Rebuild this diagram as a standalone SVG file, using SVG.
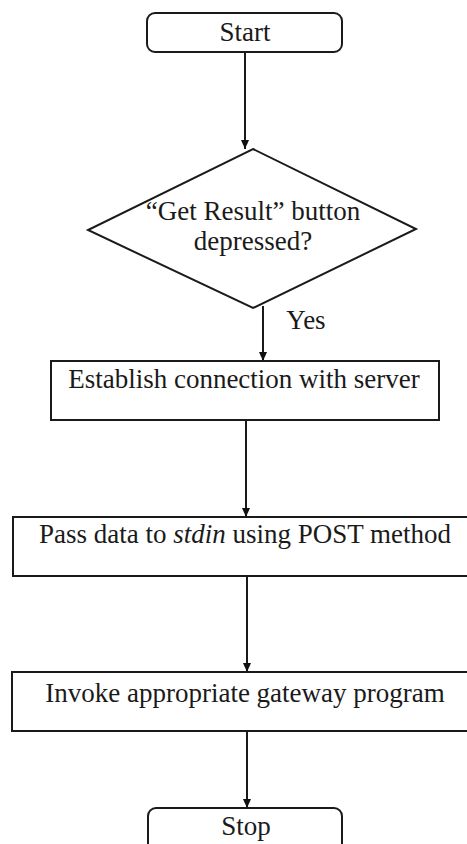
<svg xmlns="http://www.w3.org/2000/svg" width="467" height="844" viewBox="0 0 467 844">
<defs>
<marker id="ah" markerWidth="10" markerHeight="10" refX="9" refY="5" orient="auto" markerUnits="userSpaceOnUse">
<path d="M0,1 L9,5 L0,9 z" fill="#111"/>
</marker>
<style>
.n{fill:#fff;stroke:#1a1a1a;stroke-width:2}
.t{font-family:"Liberation Serif","Times New Roman",serif;font-size:27px;fill:#1a1a1a;text-anchor:middle}
.c{stroke:#1a1a1a;stroke-width:2;fill:none;marker-end:url(#ah)}
</style>
</defs>
<rect width="467" height="844" fill="#fff"/>
<g id="connectors">
<line class="c" x1="245" y1="52" x2="245" y2="149"/>
<line class="c" x1="263" y1="306" x2="263" y2="361"/>
<line class="c" x1="246" y1="420" x2="246" y2="517"/>
<line class="c" x1="247" y1="576" x2="247" y2="672"/>
<line class="c" x1="247" y1="731" x2="247" y2="808"/>
<text class="t" x="306" y="329">Yes</text>
</g>
<g id="start">
<rect class="n" x="147" y="13" width="195" height="39" rx="8"/>
<text class="t" x="245" y="41">Start</text>
</g>
<g id="decision">
<polygon class="n" points="253,149 416,229 253,308 88,230"/>
<text class="t" x="253" y="220">“Get Result” button</text>
<text class="t" x="253" y="250">depressed?</text>
</g>
<g id="establish">
<rect class="n" x="51" y="361" width="388" height="59"/>
<text class="t" x="244" y="388">Establish connection with server</text>
</g>
<g id="pass">
<rect class="n" x="13" y="517" width="460" height="59"/>
<text class="t" x="245" y="543">Pass data to <tspan font-style="italic">stdin</tspan> using POST method</text>
</g>
<g id="invoke">
<rect class="n" x="12" y="672" width="461" height="59"/>
<text class="t" x="245" y="702">Invoke appropriate gateway program</text>
</g>
<g id="stop">
<rect class="n" x="148" y="808" width="194" height="50" rx="8"/>
<text class="t" x="246" y="835">Stop</text>
</g>
</svg>
